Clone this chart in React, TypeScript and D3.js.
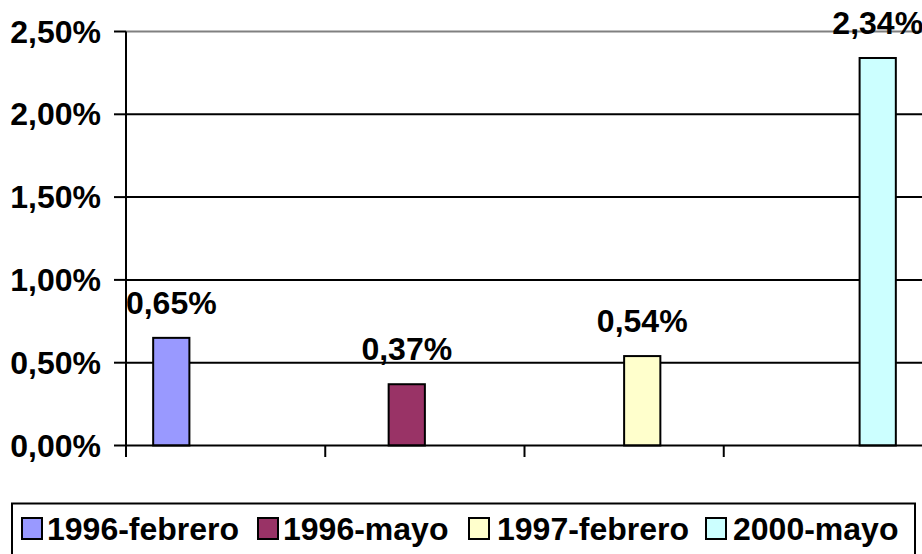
import React from "react";
import * as d3 from "d3";

const series = ["1996-febrero", "1996-mayo", "1997-febrero", "2000-mayo"];
const values = [0.65, 0.37, 0.54, 2.34];
const colors = ["#9999FF", "#993366", "#FFFFCC", "#CCFFFF"];
const yTicks = [0, 0.5, 1, 1.5, 2, 2.5];

const W = 922, H = 554;
const left = 126, right = 923, top = 31.5, bottom = 445.5;
const FONT = "'Liberation Sans', Arial, sans-serif";
const FS = 32;

const fmt = (v: number) => v.toFixed(2).replace(".", ",") + "%";

export default function App() {
  const y = d3.scaleLinear().domain([0, 2.5]).range([bottom, top]);
  const cat = d3.scaleBand<number>().domain(d3.range(series.length)).range([left, right]).paddingInner(0).paddingOuter(0);
  const cw = cat.bandwidth();
  // gap width 150%: cluster = 4 bars + 1.5 bar gap = 5.5 bar widths
  const bw = cw / 5.5;
  const barX = (i: number) => (cat(i) as number) + bw * 0.75 + i * bw;

  const legendSq = [22, 258, 469, 706];
  const legendTx = [47, 283, 497, 733];

  return (
    <svg width={W} height={H} style={{ position: "absolute", left: 0, top: 0, background: "#fff" }} fontFamily={FONT}>
      <rect x={0} y={0} width={W} height={H} fill="#fff" />
      {yTicks.filter((t) => t > 0 && t < 2.5).map((t) => (
        <line key={t} x1={left} x2={W} y1={y(t)} y2={y(t)} stroke="#000" strokeWidth={2} />
      ))}
      <line x1={left} x2={W} y1={y(2.5)} y2={y(2.5)} stroke="#808080" strokeWidth={2} />
      {values.map((v, i) => (
        <rect key={i} x={barX(i)} y={y(v)} width={bw} height={y(0) - y(v)} fill={colors[i]} stroke="#000" strokeWidth={2} />
      ))}
      <line x1={left} x2={left} y1={top} y2={457} stroke="#000" strokeWidth={2} />
      <line x1={left} x2={W} y1={bottom} y2={bottom} stroke="#000" strokeWidth={2} />
      {yTicks.map((t) => (
        <g key={t}>
          <line x1={114} x2={left} y1={y(t)} y2={y(t)} stroke="#000" strokeWidth={2} />
          <text x={101} y={y(t) + 11} textAnchor="end" fontSize={FS} fontWeight="bold">{fmt(t)}</text>
        </g>
      ))}
      {d3.range(1, series.length).map((i) => (
        <line key={i} x1={cat(i) as number} x2={cat(i) as number} y1={bottom} y2={457} stroke="#000" strokeWidth={2} />
      ))}
      {values.map((v, i) => (
        <text key={i} x={barX(i) + bw / 2} y={y(v) - 24} textAnchor="middle" fontSize={FS} fontWeight="bold">{fmt(v)}</text>
      ))}
      <rect x={12} y={503.5} width={903} height={60} fill="none" stroke="#000" strokeWidth={2} />
      {series.map((s, i) => (
        <g key={s}>
          <rect x={legendSq[i]} y={518} width={20} height={21} fill={colors[i]} stroke="#000" strokeWidth={2} />
          <text x={legendTx[i]} y={540} fontSize={FS} fontWeight="bold">{s}</text>
        </g>
      ))}
    </svg>
  );
}
